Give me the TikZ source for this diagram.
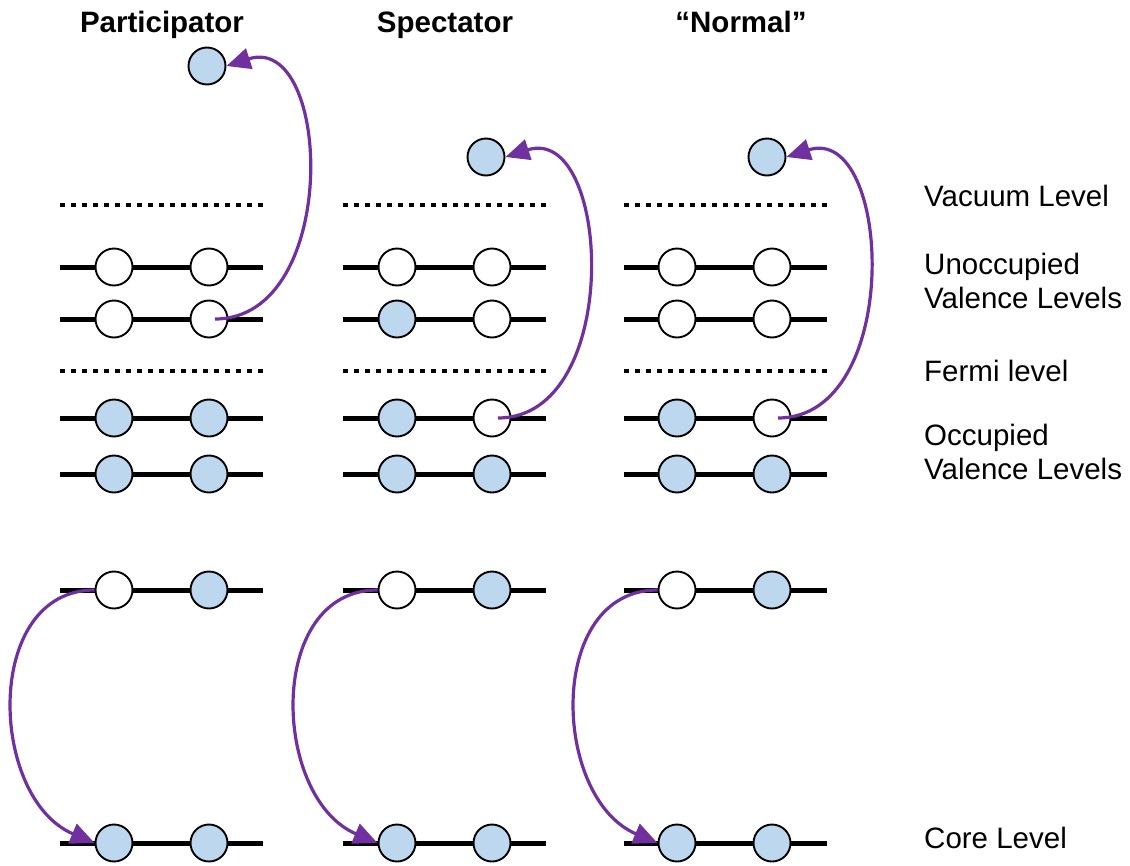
\documentclass[tikz,border=0pt]{standalone}
\usepackage{fontspec}
\setmainfont{Liberation Sans}
\usetikzlibrary{arrows.meta}
\definecolor{fillblue}{HTML}{BDD7EE}
\definecolor{arrowpurple}{HTML}{7030A0}
\begin{document}
\begin{tikzpicture}[x=1pt,y=-1pt,
  level/.style={line width=5pt},
  dotlevel/.style={line width=4.5pt, dash pattern=on 4.5pt off 6.5pt},
  elec/.style={circle, draw=black, line width=1.9pt, minimum size=37pt, inner sep=0pt, fill=fillblue},
  hole/.style={elec, fill=white},
  trans/.style={draw=arrowpurple, line width=3.2pt, -{Triangle[length=24pt,width=21pt]}},
  title/.style={font=\fontsize{29.5}{35}\selectfont\bfseries, anchor=mid, inner sep=0pt},
  lab/.style={font=\fontsize{29.5}{34}\selectfont, anchor=mid west, align=left, inner sep=0pt}]
\useasboundingbox (0,0) rectangle (1130,865);

% titles
\node[title] (tp) at (162,30) {Participator};
\node[title] (ts) at (445,30) {Spectator};
\node[title] (tn) at (741,30) {“Normal”};

% right labels
\node[lab] (lvac) at (924,204) {Vacuum Level};
\node[lab] (lunoc1) at (924,272) {Unoccupied};
\node[lab] (lunoc2) at (924,306) {Valence Levels};
\node[lab] (lfermi) at (924,379) {Fermi level};
\node[lab] (locc1) at (924,443) {Occupied};
\node[lab] (locc2) at (924,477) {Valence Levels};
\node[lab] (lcore) at (924,846) {Core Level};

% ---------- Participator ----------
\begin{scope}[xshift=0pt]
\draw[dotlevel] (60,205) -- (263,205);
\draw[dotlevel] (60,371) -- (263,371);
\foreach \yy in {267,319,418,474,590,843} \draw[level] (60,\yy) -- (263,\yy);
\node[elec] (ptop) at (207,66) {};
\node[hole] (pu1a) at (114,267) {};
\node[hole] (pu1b) at (209,267) {};
\node[hole] (pu2a) at (114,319) {};
\node[hole] (pu2b) at (209,319) {};
\node[elec] (po1a) at (114,418) {};
\node[elec] (po1b) at (209,418) {};
\node[elec] (po2a) at (114,474) {};
\node[elec] (po2b) at (209,474) {};
\node[hole] (pc1a) at (114,590) {};
\node[elec] (pc1b) at (209,590) {};
\node[elec] (pc0a) at (114,843) {};
\node[elec] (pc0b) at (209,843) {};
\end{scope}

% ---------- Spectator ----------
\begin{scope}[xshift=283pt]
\draw[dotlevel] (60,205) -- (263,205);
\draw[dotlevel] (60,371) -- (263,371);
\foreach \yy in {267,319,418,474,590,843} \draw[level] (60,\yy) -- (263,\yy);
\node[elec] (stop) at (203,157) {};
\node[hole] (su1a) at (114,267) {};
\node[hole] (su1b) at (209,267) {};
\node[elec] (su2a) at (114,319) {};
\node[hole] (su2b) at (209,319) {};
\node[elec] (so1a) at (114,418) {};
\node[hole] (so1b) at (209,418) {};
\node[elec] (so2a) at (114,474) {};
\node[elec] (so2b) at (209,474) {};
\node[hole] (sc1a) at (114,590) {};
\node[elec] (sc1b) at (209,590) {};
\node[elec] (sc0a) at (114,843) {};
\node[elec] (sc0b) at (209,843) {};
\end{scope}

% ---------- Normal ----------
\begin{scope}[xshift=564pt]
\draw[dotlevel] (60,205) -- (263,205);
\draw[dotlevel] (60,371) -- (263,371);
\foreach \yy in {267,319,418,474,590,843} \draw[level] (60,\yy) -- (263,\yy);
\node[elec] (ntop) at (203,157) {};
\node[hole] (nu1a) at (113,267) {};
\node[hole] (nu1b) at (208,267) {};
\node[hole] (nu2a) at (113,319) {};
\node[hole] (nu2b) at (208,319) {};
\node[elec] (no1a) at (113,418) {};
\node[hole] (no1b) at (208,418) {};
\node[elec] (no2a) at (113,474) {};
\node[elec] (no2b) at (208,474) {};
\node[hole] (nc1a) at (113,590) {};
\node[elec] (nc1b) at (208,590) {};
\node[elec] (nc0a) at (113,843) {};
\node[elec] (nc0b) at (208,843) {};
\end{scope}

% ---------- transitions ----------
\draw[trans] ([xshift=6pt]pu2b.center) .. controls +(126,0) and +(106,-34) .. (ptop.east);
\draw[trans] ([xshift=6pt]so1b.center) .. controls +(126,0) and +(106,-34) .. (stop.east);
\draw[trans] ([xshift=6pt]no1b.center) .. controls +(126,0) and +(106,-34) .. (ntop.east);

\draw[trans] (pc1a.west) .. controls +(-112,0) and +(-106,-45) .. (pc0a.west);
\draw[trans] (sc1a.west) .. controls +(-112,0) and +(-106,-45) .. (sc0a.west);
\draw[trans] (nc1a.west) .. controls +(-112,0) and +(-106,-45) .. (nc0a.west);
\end{tikzpicture}
\end{document}
